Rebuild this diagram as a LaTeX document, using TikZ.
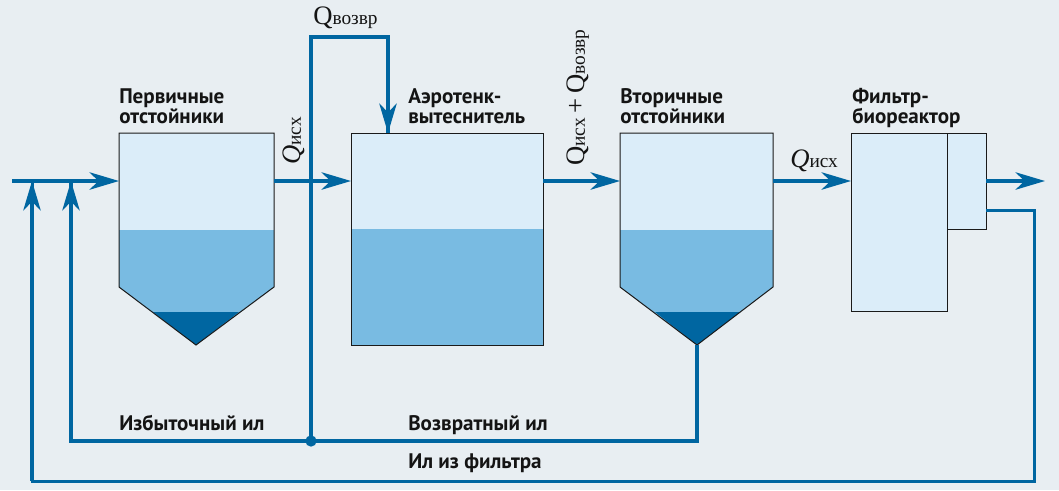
\documentclass[tikz,border=0pt]{standalone}
\usepackage{fontspec}
\setmainfont{Liberation Serif}
\newfontfamily\labfont{PT Sans}
\usetikzlibrary{arrows.meta}
\definecolor{bgc}{HTML}{E8EEF2}
\definecolor{lightc}{HTML}{DBEDF9}
\definecolor{midc}{HTML}{79BBE2}
\definecolor{darkc}{HTML}{0066A1}
\definecolor{edgec}{HTML}{1A1A1A}
\definecolor{txtc}{HTML}{141414}
\newcommand{\qv}{\fontsize{20}{20}\selectfont Q\raisebox{-0.7pt}{\fontsize{14.5}{14.5}\selectfont возвр}}
\newcommand{\qi}{\fontsize{20}{20}\selectfont\textit{Q}\raisebox{-0.7pt}{\fontsize{14.5}{14.5}\selectfont исх}}
\tikzset{
  x=0.75pt,y=-0.75pt,
  boxedge/.style={draw=edgec,line width=0.75pt},
  pipe/.style={draw=darkc,line width=2.6pt},
  pipeb/.style={draw=darkc,line width=2.25pt},
  flow/.style={pipe,-{Stealth[length=22pt,width=13pt,inset=6.5pt]}},
  lab/.style={font=\labfont\bfseries\fontsize{15.8}{15.4}\selectfont,text=txtc,align=left,anchor=north west,inner sep=0pt},
  qlab/.style={text=txtc,inner sep=0pt},
  dot/.style={circle,fill=darkc,draw=none,minimum size=8.5pt,inner sep=0pt}
}
\begin{document}
\begin{tikzpicture}
\useasboundingbox (0,0) rectangle (1059,490);
\fill[bgc] (0,0) rectangle (1059,490);
% tank 1
\fill[lightc] (119,133) rectangle (274,230);
\fill[midc] (119,230) -- (274,230) -- (274,287) -- (196,345) -- (119,287) -- cycle;
\fill[darkc] (153,312) -- (239,312) -- (196,345) -- cycle;
\draw[boxedge] (119,133) -- (274,133) -- (274,287) -- (196,345) -- (119,287) -- cycle;
% aerotank
\fill[lightc] (351,133) rectangle (543,229);
\fill[midc] (351,229) rectangle (543,345);
\draw[boxedge] (351,133) rectangle (543,345);
% tank 2
\fill[lightc] (620,133) rectangle (773,230);
\fill[midc] (620,230) -- (773,230) -- (773,287) -- (697,345) -- (620,287) -- cycle;
\fill[darkc] (655,312) -- (740,312) -- (697,345) -- cycle;
\draw[boxedge] (620,133) -- (773,133) -- (773,287) -- (697,345) -- (620,287) -- cycle;
% filter
\node[boxedge,fill=lightc,anchor=north west,minimum width=72pt,minimum height=133.5pt,inner sep=0pt] (fmain) at (851,133) {};
\node[boxedge,fill=lightc,anchor=north west,minimum width=29.25pt,minimum height=72pt,inner sep=0pt] (fside) at (947,133) {};
% named points
\coordinate (in) at (12,181);
\coordinate (t1in) at (119,181);
\coordinate (t1out) at (274,181);
\coordinate (a1in) at (351,181);
\coordinate (a1out) at (543,181);
\coordinate (t2in) at (620,181);
\coordinate (t2out) at (773,181);
\coordinate (f1in) at (851,181);
\coordinate (f2out) at (986,181);
\coordinate (outp) at (1045,181);
\coordinate (ret1) at (311,37);
\coordinate (ret2) at (388,37);
\coordinate (atop) at (388,133);
\coordinate (apex) at (697,345);
\coordinate (c1) at (697,441);
\coordinate (c2) at (71,441);
\coordinate (j1) at (71,181);
\coordinate (j2) at (32,181);
\coordinate (fl1) at (986,210);
\coordinate (fl2) at (1034,210);
\coordinate (fl3) at (1034,481);
\coordinate (fl4) at (32,481);
\node[dot] (junc) at (311,441) {};
% pipes
\draw[flow] (in) -- (t1in);
\draw[flow] (t1out) -- (a1in);
\draw[flow] (a1out) -- (t2in);
\draw[flow] (t2out) -- (f1in);
\draw[flow] (f2out) -- (outp);
\draw[pipe,line join=miter] (junc.center) -- (ret1) -- (ret2) -- (atop);
\draw[flow] (ret2) -- (atop);
\draw[pipe,line join=miter] (apex) -- (c1) -- (c2) -- (j1);
\draw[flow] (c2) -- (j1);
\draw[pipeb,line join=miter] (fl1) -- (fl2) -- (fl3) -- (fl4) -- (j2);
\draw[flow] (fl4) -- (j2);
% labels
\node[lab] (l1) at (119,88) {Первичные\\отстойники};
\node[lab] (l2) at (408,88) {Аэротенк-\\вытеснитель};
\node[lab] (l3) at (620,88) {Вторичные\\отстойники};
\node[lab] (l4) at (852,88) {Фильтр-\\биореактор};
\node[lab] (l5) at (119,415) {Избыточный ил};
\node[lab] (l6) at (408,415) {Возвратный ил};
\node[lab] (l7) at (408,453) {Ил из фильтра};
\node[qlab,anchor=base west] (q1) at (313,24) {\qv};
\node[qlab,anchor=base west,rotate=90] (q2) at (300,165) {\qi};
\node[qlab,anchor=base west,rotate=90] (q3) at (584,166) {\fontsize{20}{20}\selectfont Q\raisebox{-0.7pt}{\fontsize{14.5}{14.5}\selectfont исх}\kern3.5pt+\kern3.5pt\qv};
\node[qlab,anchor=base west] (q4) at (790,167) {\qi};
\end{tikzpicture}
\end{document}
